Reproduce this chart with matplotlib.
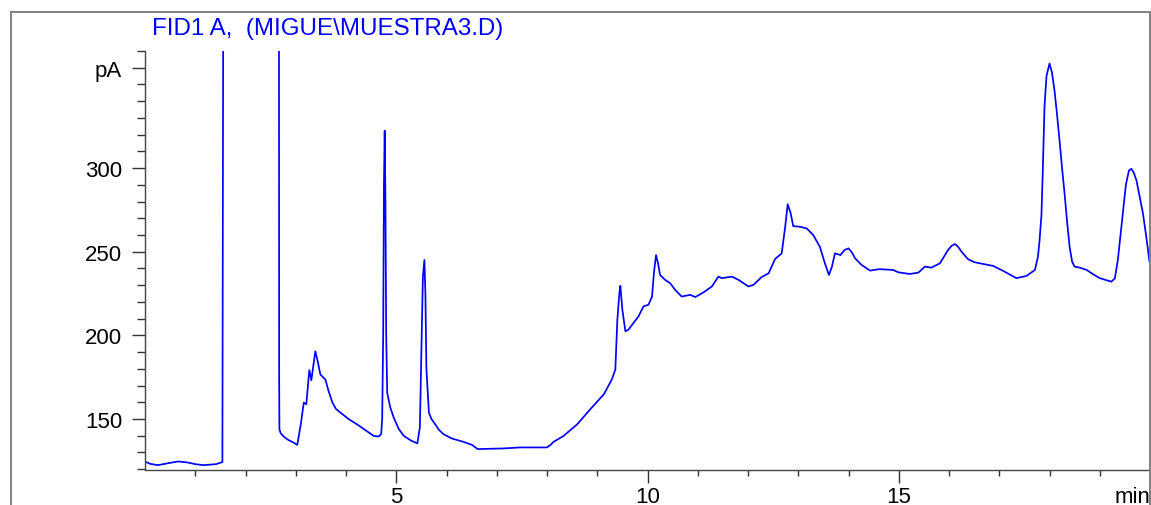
import matplotlib
matplotlib.use("Agg")
import matplotlib.pyplot as plt
from matplotlib.patches import Rectangle

plt.rcParams['font.family'] = ['Liberation Sans', 'DejaVu Sans']

# ---- data ----
time_min = [
    0.01, 0.10, 0.26, 0.45, 0.66, 0.85, 1.00, 1.17, 1.41, 1.54, 1.56, 1.60, 2.00,
    2.60, 2.665, 2.67, 2.675, 2.70, 2.76, 2.85, 2.95, 3.03, 3.10, 3.16, 3.21, 3.27,
    3.31, 3.39, 3.44, 3.49, 3.59, 3.65, 3.73, 3.80, 3.89, 4.05, 4.22, 4.40, 4.55,
    4.65, 4.70, 4.72, 4.74, 4.755, 4.77, 4.785, 4.80, 4.82, 4.88, 4.95, 5.05, 5.15,
    5.30, 5.42, 5.47, 5.50, 5.53, 5.56, 5.58, 5.60, 5.65, 5.70, 5.75, 5.85, 5.94,
    6.11, 6.34, 6.51, 6.62, 7.14, 7.47, 8.00, 8.07, 8.13, 8.33, 8.60, 8.86, 9.13,
    9.29, 9.36, 9.40, 9.44, 9.46, 9.50, 9.56, 9.62, 9.72, 9.82, 9.92, 10.02, 10.09,
    10.13, 10.17, 10.21, 10.25, 10.35, 10.45, 10.55, 10.68, 10.85, 10.95, 11.11,
    11.28, 11.41, 11.48, 11.68, 11.81, 12.01, 12.11, 12.27, 12.41, 12.54, 12.67,
    12.74, 12.79, 12.85, 12.90, 13.04, 13.17, 13.30, 13.43, 13.53, 13.61, 13.67,
    13.73, 13.84, 13.92, 14.00, 14.07, 14.13, 14.26, 14.43, 14.59, 14.66, 14.89,
    14.99, 15.22, 15.39, 15.52, 15.65, 15.82, 15.98, 16.05, 16.12, 16.18, 16.25,
    16.38, 16.51, 16.88, 17.08, 17.34, 17.54, 17.71, 17.77, 17.80, 17.84, 17.87,
    17.90, 17.94, 18.00, 18.05, 18.10, 18.15, 18.20, 18.25, 18.30, 18.35, 18.40,
    18.45, 18.50, 18.60, 18.74, 18.87, 19.00, 19.23, 19.30, 19.36, 19.42, 19.46,
    19.52, 19.58, 19.63, 19.68, 19.73, 19.80, 19.86, 19.93, 19.99,
]
signal_pA = [
    124.4, 123.2, 122.4, 123.5, 124.6, 124.0, 123.0, 122.4, 123.0, 124.2, 450, 450, 450,
    450, 450, 172, 143.8, 141.5, 139.5, 137.5, 136.0, 134.5, 146.8, 159.8, 158.8, 179.2,
    173.2, 190.5, 184.0, 176.6, 173.6, 167.0, 159.8, 156.0, 153.8, 150.0, 146.8, 143.0, 139.9,
    139.5, 141.0, 150, 200, 290, 322.4, 280, 200, 165.7, 157.0, 150.8, 144.0, 139.9,
    137.0, 135.4, 145, 190, 235, 245.1, 225, 180, 153.8, 150.0, 147.9, 143.5, 140.9,
    138.3, 136.3, 134.5, 132.0, 132.4, 133.0, 133.0, 134.5, 136.3, 139.9, 146.8, 155.8, 164.7,
    173.6, 179.6, 209.3, 225.2, 229.6, 215.3, 202.4, 203.4, 207.4, 211.3, 217.3, 218.3, 223.2,
    238.0, 248.0, 243.0, 236.1, 233.2, 231.2, 227.2, 223.2, 224.2, 222.9, 225.6,
    229.2, 235.1, 234.2, 235.1, 233.2, 229.2, 230.2, 234.8, 237.1, 245.7, 249.0,
    264.9, 278.4, 272.9, 265.3, 264.9, 263.9, 259.9, 253.0, 243.1, 236.1, 241.0,
    249.0, 248.0, 251.0, 252.0, 249.5, 246.1, 242.1, 238.7, 239.5, 239.5, 239.1,
    237.7, 236.7, 237.5, 241.1, 240.5, 243.1, 251.0, 253.5, 254.6, 253.0, 250.0,
    245.5, 243.7, 241.5, 238.5, 234.2, 235.5, 239.1, 247.0, 256.0, 272.0, 302.0,
    336.3, 355.0, 362.5, 357.0, 346.3, 332.0, 316.5, 300.0, 284.8, 268.0, 253.0,
    244.0, 241.1, 240.5, 239.1, 236.5, 234.2, 232.1, 234.0, 245.0, 262.0, 272.9,
    290.0, 298.5, 299.6, 297.0, 292.7, 282.0, 272.9, 258.0, 244.1,
]

x_major_ticks = [5, 10, 15]
x_minor_ticks = [1, 2, 3, 4, 6, 7, 8, 9, 11, 12, 13, 14, 16, 17, 18, 19]
y_major_ticks = [150, 200, 250, 300, 360]
y_major_labels = ['150', '200', '250', '300', 'pA']
y_minor_ticks = [120, 130, 140, 160, 170, 180, 190, 210, 220, 230, 240, 260, 270,
                 280, 290, 310, 320, 330, 340, 350, 370]
title_text = 'FID1 A,  (MIGUE\\MUESTRA3.D)'
x_unit = 'min'

W, H = 1151, 506
fig = plt.figure(figsize=(W / 100, H / 100), dpi=100)

# outer grey frame
fig.patches.append(Rectangle((10.5 / W, -0.2), (1150 - 10.5) / W, 0.2 + (H - 13) / H,
                             transform=fig.transFigure, fill=False,
                             edgecolor='#808080', linewidth=1.4, zorder=0))

ax_left, ax_right = 145 / W, 1150 / W
ax_bottom, ax_top = (H - 470.5) / H, (H - 52) / H
ax = fig.add_axes([ax_left, ax_bottom, ax_right - ax_left, ax_top - ax_bottom])
ax.patch.set_alpha(0)

ax.plot(time_min, signal_pA, color='#0000ff', linewidth=1.25, solid_joinstyle='round')
ax.set_xlim(0, 20)
ax.set_ylim(119.8, 368.9)

for s in ['top', 'right']:
    ax.spines[s].set_visible(False)
for s in ['left', 'bottom']:
    ax.spines[s].set_color('#444444')
    ax.spines[s].set_linewidth(1.0)

ax.set_xticks(x_major_ticks)
ax.set_xticks(x_minor_ticks, minor=True)
ax.set_yticks(y_major_ticks)
ax.set_yticklabels(y_major_labels)
ax.set_yticks(y_minor_ticks, minor=True)

ax.tick_params(axis='x', which='major', length=9, width=1, color='#333333',
               labelsize=16, pad=3, labelcolor='black')
ax.tick_params(axis='x', which='minor', length=4.5, width=1, color='#333333')
ax.tick_params(axis='y', which='major', length=9.5, width=1, color='#333333',
               labelsize=16, pad=7, labelcolor='black')
ax.tick_params(axis='y', which='minor', length=5.5, width=1, color='#333333')

ax.annotate(x_unit, xy=(1, 0), xycoords='axes fraction', xytext=(0, -12),
            textcoords='offset points', ha='right', va='top', fontsize=16,
            color='black')

fig.text(152 / W, 1 - 28.5 / H, title_text, ha='left', va='center', fontsize=17.4,
         color='#0000ff')

fig.savefig('out.png', dpi=100)
